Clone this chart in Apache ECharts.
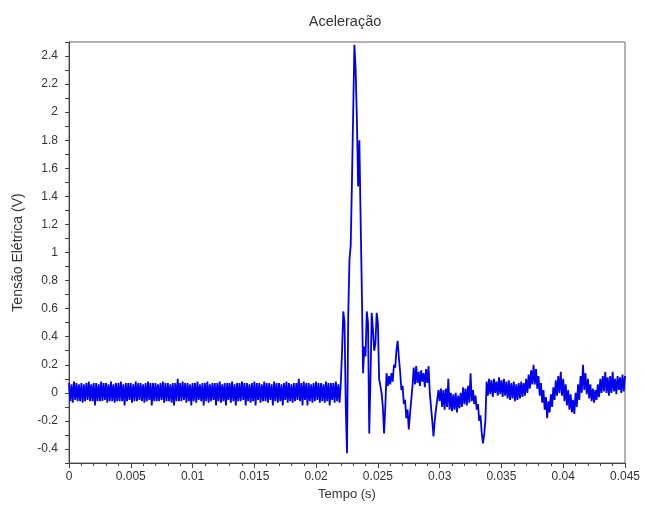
<!DOCTYPE html>
<html>
<head>
<meta charset="utf-8">
<script src="https://cdn.jsdelivr.net/npm/echarts@6/dist/echarts.min.js"></script>
<style>
html,body{margin:0;padding:0;background:#fff;}
#chart{width:645px;height:506px;}
</style>
</head>
<body>
<div id="chart"></div>
<script>
// Sampling period of the acquired signal (s)
const sampleStep = 0.0001;

// Pre-impact noise (t = 0 .. 0.022 s)
const baseline = [
0.07,-0.06,0.06,-0.07,0.08,-0.05,0.07,-0.06,0.06,-0.06,0.07,-0.07,0.06,-0.06,0.07,-0.05,0.08,-0.06,0.06,-0.06,
0.07,-0.09,0.07,-0.06,0.06,-0.06,0.08,-0.06,0.07,-0.05,0.07,-0.07,0.06,-0.06,0.08,-0.06,0.06,-0.07,0.07,-0.06,
0.07,-0.06,0.08,-0.06,0.06,-0.09,0.07,-0.06,0.07,-0.05,0.07,-0.07,0.06,-0.06,0.08,-0.06,0.07,-0.05,0.07,-0.06,
0.06,-0.07,0.07,-0.06,0.08,-0.05,0.07,-0.09,0.07,-0.06,0.07,-0.06,0.06,-0.06,0.07,-0.05,0.08,-0.07,0.07,-0.06,
0.07,-0.06,0.06,-0.07,0.07,-0.09,0.07,-0.06,0.10,-0.06,0.07,-0.06,0.08,-0.05,0.07,-0.07,0.07,-0.06,0.06,-0.09,
0.07,-0.06,0.07,-0.07,0.08,-0.05,0.06,-0.06,0.07,-0.09,0.07,-0.06,0.08,-0.07,0.06,-0.06,0.07,-0.05,0.07,-0.09,
0.07,-0.06,0.08,-0.07,0.06,-0.06,0.07,-0.09,0.07,-0.05,0.07,-0.07,0.08,-0.06,0.06,-0.09,0.07,-0.06,0.07,-0.06,
0.08,-0.05,0.07,-0.09,0.07,-0.06,0.06,-0.07,0.07,-0.06,0.08,-0.09,0.07,-0.05,0.07,-0.07,0.06,-0.06,0.08,-0.06,
0.07,-0.07,0.07,-0.05,0.06,-0.09,0.08,-0.06,0.07,-0.07,0.07,-0.06,0.06,-0.09,0.07,-0.05,0.08,-0.07,0.07,-0.06,
0.06,-0.07,0.07,-0.06,0.07,-0.05,0.10,-0.06,0.07,-0.09,0.08,-0.05,0.07,-0.09,0.07,-0.06,0.06,-0.07,0.07,-0.06,
0.08,-0.05,0.07,-0.07,0.07,-0.06,0.06,-0.07,0.08,-0.06,0.07,-0.09,0.07,-0.05,0.07,-0.07,0.08,-0.06,0.06,-0.07,
0.07
];

// Impact transient (t = 0.0221 .. 0.0278 s)
const impact = [
0.3,0.58,0.5,-0.1,-0.43,0.55,0.95,1.05,1.5,2.0,
2.48,2.3,1.95,1.47,1.8,1.25,0.73,0.14,0.33,0.26,
0.58,0.5,-0.29,0.1,0.57,0.45,0.3,0.35,0.57,0.5,
0.1,0.05,0.0,-0.1,-0.29,-0.1,0.14,0.05,0.12,0.06,
0.14,0.08,0.2,0.18,0.3,0.37,0.25,0.15,0.02,0.05,
-0.08,-0.05,-0.18,-0.12,-0.26,-0.15,-0.05,0.05
];

// Decaying oscillation (t = 0.0279 .. 0.045 s)
const decay = [
0.18,0.06,0.19,0.07,0.15,0.05,0.16,0.08,0.14,0.04,0.17,0.07,
0.19,0.0,-0.1,-0.2,-0.31,-0.2,-0.12,-0.05,0.02,
-0.06,0.03,-0.1,0.02,-0.12,0.03,-0.1,0.1,
-0.12,0.0,-0.13,-0.01,-0.12,0.0,-0.14,-0.02,-0.11,0.0,
-0.1,0.04,-0.08,0.03,-0.09,0.05,-0.07,0.14,-0.06,
0.02,-0.08,-0.02,-0.12,-0.08,-0.2,-0.16,-0.28,-0.36,-0.3,-0.2,
0.08,-0.02,0.1,-0.01,0.09,-0.03,0.1,0.0,0.08,-0.02,0.11,-0.01,0.09,-0.03,0.1,-0.02,0.08,-0.04,0.09,
-0.05,0.07,-0.04,0.08,-0.06,0.06,-0.05,0.07,-0.04,0.08,-0.03,0.07,
-0.02,0.1,0.0,0.13,0.03,0.16,0.06,
0.2,0.06,0.17,0.03,0.12,-0.02,0.07,-0.07,0.02,-0.12,-0.03,
-0.18,-0.06,-0.14,-0.01,-0.1,0.04,-0.05,0.09,-0.02,0.12,
0.0,0.15,-0.02,0.1,-0.06,0.06,-0.09,0.02,-0.12,-0.01,-0.14,
-0.05,-0.15,0.0,-0.1,0.06,-0.05,0.12,0.0,
0.2,0.02,0.14,-0.01,0.1,-0.04,0.06,-0.06,0.03,-0.07,
0.02,-0.05,0.06,-0.03,0.1,0.0,0.12,0.01,0.15,0.0,0.11,-0.02,0.12,0.0,0.15,0.01,0.1,-0.01,0.12,0.02,0.11,0.0,0.13,0.01,0.12
];

const xTickLabels = ['0','0.005','0.01','0.015','0.02','0.025','0.03','0.035','0.04','0.045'];
const yTickLabels = ['-0.4','-0.2','0','0.2','0.4','0.6','0.8','1','1.2','1.4','1.6','1.8','2','2.2','2.4'];

const volts = baseline.concat(impact, decay);
const seriesData = volts.map((v, i) => [+(i * sampleStep).toFixed(5), v]);

const font = 'Liberation Sans, Arial, sans-serif';
const chart = echarts.init(document.getElementById('chart'), null, {renderer: 'canvas'});
chart.setOption({
  animation: false,
  backgroundColor: '#ffffff',
  title: {
    text: 'Aceleração',
    left: 340, top: 9, textAlign: 'center',
    textStyle: {fontFamily: font, fontSize: 14.5, fontWeight: 'normal', color: '#333'}
  },
  grid: {
    left: 69, right: 20, top: 42, bottom: 43,
    show: true, borderColor: '#666', borderWidth: 1, backgroundColor: 'transparent'
  },
  xAxis: {
    type: 'value', min: 0, max: 0.045, interval: 0.005,
    name: 'Tempo (s)', nameLocation: 'middle', nameGap: 25,
    nameTextStyle: {fontFamily: font, fontSize: 13, color: '#333'},
    axisLine: {show: true, onZero: false, lineStyle: {color: '#444', width: 1}},
    axisTick: {show: true, inside: false, length: 5, lineStyle: {color: '#444'}},
    minorTick: {show: true, splitNumber: 5, length: 3, lineStyle: {color: '#444'}},
    splitLine: {show: false},
    axisLabel: {
      fontFamily: font, fontSize: 12, color: '#333', margin: 8,
      formatter: (v) => {
        const s = +v.toFixed(3);
        const lbl = xTickLabels.find(t => +t === s);
        return lbl === undefined ? '' : lbl;
      }
    }
  },
  yAxis: {
    type: 'value', min: -0.5, max: 2.5, interval: 0.1,
    name: 'Tensão Elétrica (V)', nameLocation: 'middle', nameGap: 44, nameRotate: 90,
    nameTextStyle: {fontFamily: font, fontSize: 14, color: '#333'},
    axisLine: {show: true, onZero: false, lineStyle: {color: '#444', width: 1}},
    axisTick: {show: true, inside: false, length: 4, lineStyle: {color: '#444'}},
    splitLine: {show: false},
    axisLabel: {
      fontFamily: font, fontSize: 12, color: '#333', margin: 11,
      formatter: (v) => {
        const s = +v.toFixed(2);
        const lbl = yTickLabels.find(t => Math.abs(+t - s) < 1e-6);
        return lbl === undefined ? '' : lbl;
      }
    }
  },
  series: [{
    type: 'line',
    data: seriesData,
    showSymbol: false,
    symbol: 'none',
    lineStyle: {color: '#0000ee', width: 1.8},
    itemStyle: {color: '#0000ee'}
  }]
});
</script>
</body>
</html>
